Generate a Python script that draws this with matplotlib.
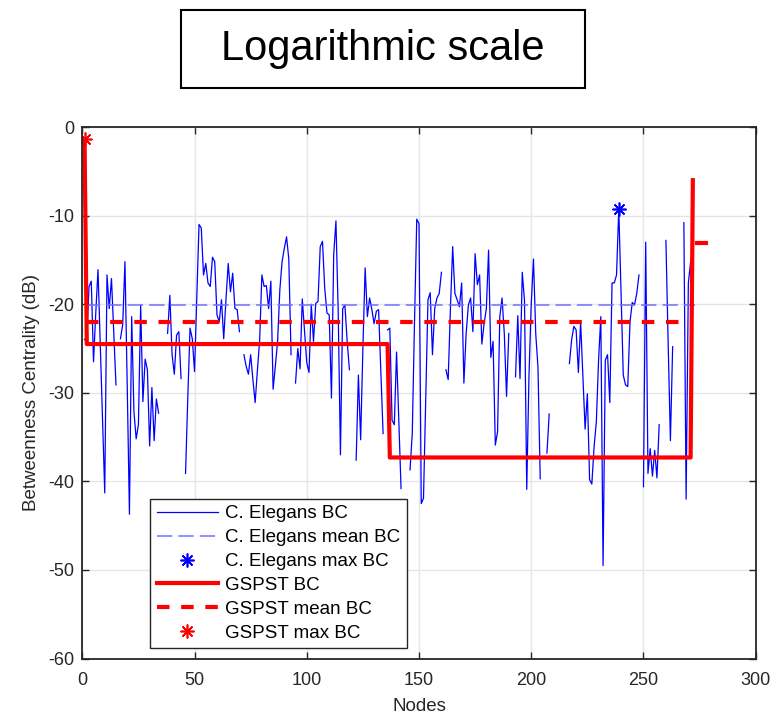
import numpy as np
import matplotlib.pyplot as plt
from matplotlib.patches import Rectangle

plt.rcParams['font.family'] = ['Liberation Sans', 'DejaVu Sans']
plt.rcParams['axes.unicode_minus'] = False

nan = np.nan

# C. Elegans betweenness centrality in dB, nodes 1..272 (nan = zero BC, not drawn)
elegans_bc = [
    -24.0, -23.7, -18.0, -17.4, -26.5, -21.0, -16.1, -24.5, -33.0, -41.3,
    -16.7, -20.5, -17.1, -23.0, -29.1, nan, -23.9, -22.3, -15.2, -29.0,
    -43.7, -21.4, -32.1, -35.2, -33.6, -20.1, -31.0, -26.2, -27.4, -36.0,
    -29.4, -35.4, -30.7, -32.3, nan, nan, nan, -23.3, -19.0, -25.7,
    -27.9, -23.5, -23.1, -28.4, nan, -39.1, -30.5, -22.7, -23.9, -27.6,
    -19.3, -11.0, -11.4, -16.7, -15.4, -17.6, -18.0, -14.7, -15.2, -21.2,
    -22.0, -19.5, -23.9, -19.5, -15.4, -18.6, -16.5, -20.5, -20.6, -23.1,
    nan, -25.7, -27.0, -27.9, -25.7, -28.5, -31.1, -27.5, -24.1, -16.7,
    -18.0, -17.9, -20.5, -17.4, -29.6, -27.0, -24.2, -18.4, -15.2, -13.7,
    -12.4, -14.9, -25.7, nan, -28.9, -25.0, -27.3, -19.4, -23.0, -26.6,
    -27.7, -20.0, -24.2, -19.9, -19.7, -13.5, -12.9, -18.2, -21.0, -21.2,
    -30.6, -14.4, -10.6, -20.8, -37.0, -20.5, -20.1, -24.2, -27.4, nan,
    nan, -37.6, -28.0, -35.3, -25.0, -15.9, -21.4, -19.3, -20.6, -22.2,
    -20.8, -20.6, -27.5, -34.6, nan, -22.9, -22.7, -33.1, -33.6, -25.4,
    -33.0, -40.8, nan, nan, nan, -38.7, -34.6, -22.0, -10.4, -10.9,
    -42.5, -41.9, -30.7, -19.5, -18.7, -25.7, -20.5, -19.3, -18.8, -16.4,
    nan, -27.4, -28.5, -20.5, -13.5, -18.8, -19.5, -20.3, -17.6, -28.9,
    -23.3, -20.1, -19.3, -23.1, -14.3, -17.8, -16.7, -24.5, -22.2, -20.5,
    -13.9, -26.0, -24.2, -35.9, -34.4, -21.4, -19.3, -23.3, -30.4, -23.3,
    nan, nan, -28.2, -21.3, -28.4, -16.4, -19.6, -40.9, -28.0, -20.0,
    -14.9, -23.3, -27.1, -39.7, nan, nan, -36.8, -32.4, nan, nan,
    nan, nan, nan, nan, nan, nan, -26.7, -24.0, -22.5, -22.9,
    -27.7, -22.0, -28.0, -34.1, -30.1, -39.8, -40.3, -36.1, -33.3, -26.3,
    -21.4, -49.5, -26.3, -25.7, -31.1, -17.6, -17.6, -16.7, -9.2, -18.7,
    -28.0, -29.1, -29.3, -22.0, -19.8, -20.1, -18.8, -16.7, nan, -40.6,
    -13.0, -39.1, -36.3, -39.4, -36.5, -39.6, -33.6, nan, nan, -12.8,
    -24.4, -35.4, -24.8, nan, nan, nan, nan, -10.8, -42.0, -17.6,
    -15.2, -14.0,
]
elegans_mean = -20.1

# GSPST betweenness centrality in dB, nodes 1..272
gspst_bc = [-1.4] + [-24.5] * 135 + [-37.3] * 135 + [-6.0]
gspst_mean = -22.0
gspst_tail_x = [274, 278]
gspst_tail_y = [-13.1, -13.1]

nodes = np.arange(1, len(elegans_bc) + 1)
elegans_bc = np.array(elegans_bc)
gspst_bc = np.array(gspst_bc)

fig = plt.figure(figsize=(7.74, 7.18), dpi=100)
ax = fig.add_axes([82.3 / 774, (718 - 658.6) / 718, 673.4 / 774, 531.6 / 718])

ax.plot(nodes, elegans_bc, color='#0000ff', lw=0.9, label='C. Elegans BC')
ax.plot([nodes[0], nodes[-1] + 1], [elegans_mean] * 2, color='#7070ff', lw=1.1,
        dashes=(10, 4), label='C. Elegans mean BC')
i_max = np.nanargmax(elegans_bc)
ax.plot(nodes[i_max], elegans_bc[i_max], ls='none', marker=(8, 2, 0), ms=10,
        mew=1.2, color='#0000ff', label='C. Elegans max BC')

ax.plot(nodes, gspst_bc, color='#ff0000', lw=3, label='GSPST BC')
ax.plot([nodes[0] + 0.8, nodes[-1]], [gspst_mean] * 2, color='#ff0000', lw=3,
        dashes=(3, 2.8), label='GSPST mean BC')
ax.plot(gspst_tail_x, gspst_tail_y, color='#ff0000', lw=3)
j_max = np.argmax(gspst_bc)
ax.plot(nodes[j_max], gspst_bc[j_max], ls='none', marker=(8, 2, 0), ms=10,
        mew=1.2, color='#ff0000', label='GSPST max BC')

ax.set_xlim(0, 300)
ax.set_ylim(-60, 0)
ax.set_xticks(range(0, 301, 50))
ax.set_yticks(range(-60, 1, 10))
ax.grid(True, color='#e6e6e6', lw=1)
ax.set_axisbelow(True)
ax.tick_params(direction='in', length=5, width=1, top=True, right=True,
               labelsize=13, colors='#262626', pad=6)
ax.tick_params(axis='x', pad=10)
for s in ax.spines.values():
    s.set_color('#262626')
    s.set_linewidth(1.3)
ax.set_xlabel('Nodes', fontsize=13.5, color='#262626', labelpad=6)
ax.set_ylabel('Betweenness Centrality (dB)', fontsize=13.5, color='#262626', labelpad=6)

leg = ax.legend(loc='upper left', bbox_to_anchor=(0.1005, 0.3008), borderaxespad=0,
                fontsize=13.5, handlelength=3.3, handletextpad=0.35, labelspacing=0.36,
                borderpad=0.35, fancybox=False, framealpha=1, edgecolor='#262626')
leg.get_frame().set_linewidth(1.0)

fig.patches.append(Rectangle((181 / 774, 1 - 88 / 718), 404 / 774, 78 / 718,
                             transform=fig.transFigure, fill=False, ec='black', lw=1.5))
fig.text(383 / 774, 1 - 49 / 718, 'Logarithmic scale', ha='center', va='center',
         fontsize=30, color='black')

fig.savefig('out.png', dpi=100)
